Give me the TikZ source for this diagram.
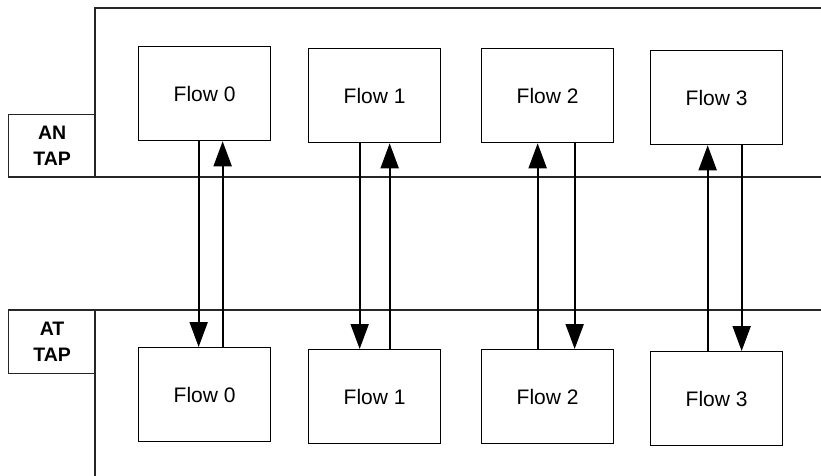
\documentclass[tikz,border=0pt]{standalone}
\usepackage{fontspec}
\setmainfont{Liberation Sans}
\usetikzlibrary{arrows.meta}
\begin{document}
\begin{tikzpicture}[x=1pt,y=-1pt,
  flowbox/.style={draw=black,line width=1.3pt,minimum width=132pt,minimum height=94pt,anchor=north west,inner sep=0pt,font=\fontsize{21}{25}\selectfont},
  tapbox/.style={draw=black!85,line width=1.2pt,minimum width=87pt,minimum height=63pt,anchor=north west,inner sep=0pt,align=center,font=\fontsize{19.5}{26}\selectfont\bfseries},
  frame/.style={draw=black!85,line width=1.2pt},
  arr/.style={line width=2pt,-{Triangle[length=25pt,width=18pt]}}]
\useasboundingbox (0,0) rectangle (821,476);
% containers
\draw[frame] (821,8) -- (95,8) -- (95,177);
\draw[frame] (8,177) -- (821,177);
\draw[frame] (8,310) -- (821,310);
\draw[frame] (95,310) -- (95,476);
\node[tapbox] (an) at (8,114) {AN\\TAP};
\node[tapbox] (at) at (8,310) {AT\\TAP};
% top flows
\node[flowbox] (t0) at (138,46) {Flow 0};
\node[flowbox] (t1) at (308,48) {Flow 1};
\node[flowbox] (t2) at (481,48) {Flow 2};
\node[flowbox] (t3) at (650,50) {Flow 3};
% bottom flows
\node[flowbox] (b0) at (138,347) {Flow 0};
\node[flowbox] (b1) at (308,349) {Flow 1};
\node[flowbox] (b2) at (481,349) {Flow 2};
\node[flowbox] (b3) at (650,351) {Flow 3};
% connectors
\draw[arr] ([xshift=-6pt]t0.south) -- ([xshift=-6pt]b0.north);
\draw[arr] ([xshift=18pt]b0.north) -- ([xshift=18pt]t0.south);
\draw[arr] ([xshift=-15pt]t1.south) -- ([xshift=-15pt]b1.north);
\draw[arr] ([xshift=15pt]b1.north) -- ([xshift=15pt]t1.south);
\draw[arr] ([xshift=-10pt]b2.north) -- ([xshift=-10pt]t2.south);
\draw[arr] ([xshift=27pt]t2.south) -- ([xshift=27pt]b2.north);
\draw[arr] ([xshift=-9pt]b3.north) -- ([xshift=-9pt]t3.south);
\draw[arr] ([xshift=25pt]t3.south) -- ([xshift=25pt]b3.north);
\end{tikzpicture}
\end{document}
